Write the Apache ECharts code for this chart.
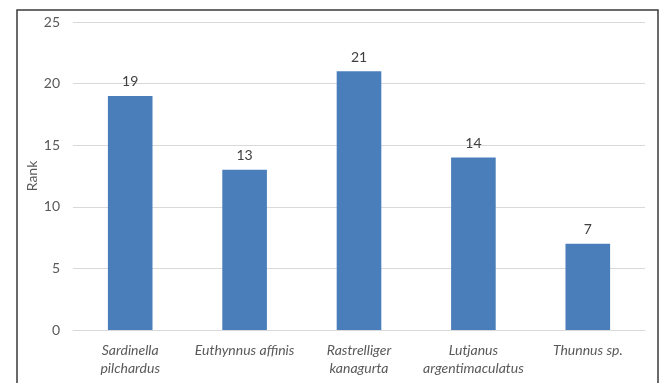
<!DOCTYPE html>
<html><head><meta charset="utf-8">
<script src="https://cdn.jsdelivr.net/npm/echarts@6/dist/echarts.min.js"></script>
<style>html,body{margin:0;padding:0;background:#fff}#c{width:659px;height:383px}</style>
</head><body><div id="c"></div>
<script>
const categories = ['Sardinella\npilchardus', 'Euthynnus affinis', 'Rastrelliger\nkanagurta', 'Lutjanus\nargentimaculatus', 'Thunnus sp.'];
const rankValues = [19, 13, 21, 14, 7];
const yTicks = [0, 5, 10, 15, 20, 25];

const chart = echarts.init(document.getElementById('c'));
chart.setOption({
  animation: false,
  textStyle: { fontFamily: 'Lato' },
  graphic: [{
    type: 'rect', left: 14.5, top: 7.5, silent: true,
    shape: { width: 641, height: 400 },
    style: { fill: 'none', stroke: '#3a3a3a', lineWidth: 1.5 }
  }],
  grid: { left: 73, right: 14, top: 22, bottom: 53, containLabel: false },
  xAxis: {
    type: 'category', data: categories,
    axisLine: { lineStyle: { color: '#d9d9d9' } },
    axisTick: { show: false },
    axisLabel: { color: '#595959', fontSize: 14, fontStyle: 'italic', lineHeight: 18, margin: 11, interval: 0 }
  },
  yAxis: {
    type: 'value', min: yTicks[0], max: yTicks[yTicks.length - 1], interval: 5,
    name: 'Rank', nameLocation: 'middle', nameGap: 34, nameRotate: 90, nameMoveOverlap: false,
    nameTextStyle: { color: '#595959', fontSize: 14 },
    axisLine: { show: false }, axisTick: { show: false },
    axisLabel: { color: '#595959', fontSize: 14, margin: 13 },
    splitLine: { lineStyle: { color: '#d9d9d9', width: 1 } }
  },
  series: [{
    type: 'bar', data: rankValues, barWidth: '39%',
    itemStyle: { color: '#4a7ebb' },
    label: { show: true, position: 'top', distance: 7, color: '#404040', fontSize: 14 }
  }]
});
</script></body></html>
